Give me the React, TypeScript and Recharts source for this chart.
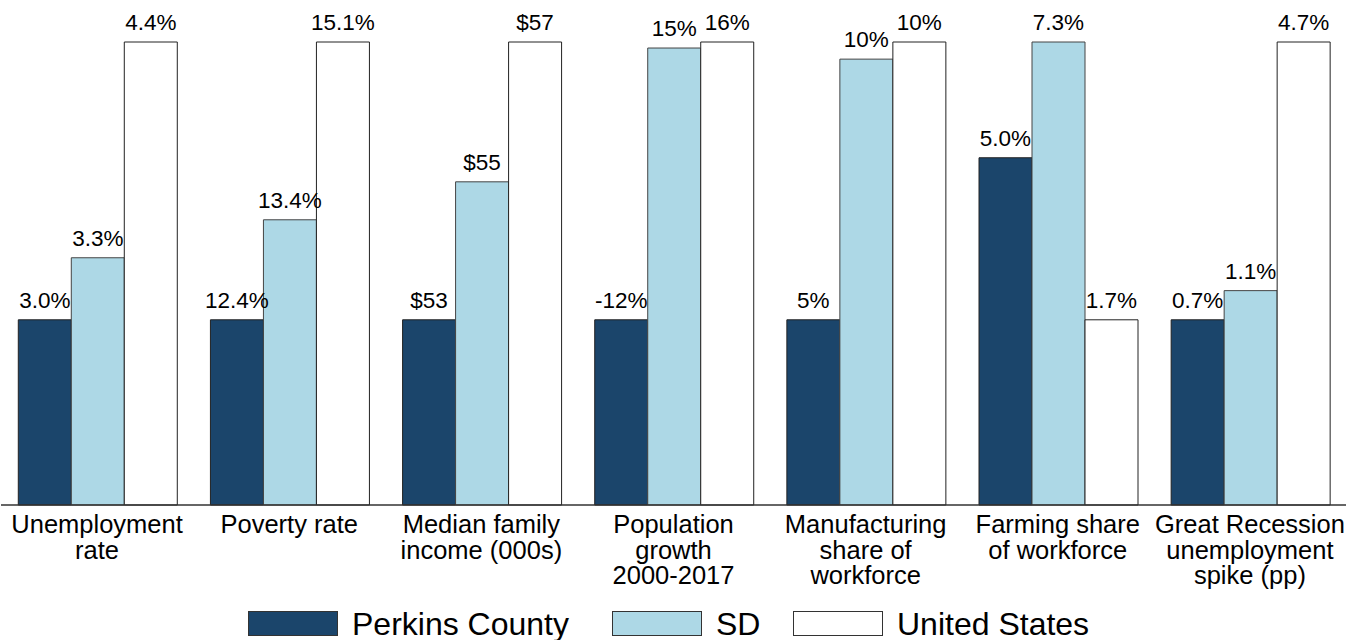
import { Bar, BarChart, LabelList, Legend, XAxis, YAxis } from "recharts";

const categories = [
  "Unemployment\nrate",
  "Poverty rate",
  "Median family\nincome (000s)",
  "Population\ngrowth\n2000-2017",
  "Manufacturing\nshare of\nworkforce",
  "Farming share\nof workforce",
  "Great Recession\nunemployment\nspike (pp)",
];

// bar heights as drawn (index, tallest bar in each group = 100)
const perkinsIndex = [40, 40, 40, 40, 40, 75, 40];
const sdIndex = [53.4, 61.6, 69.8, 98.7, 96.3, 100, 46.3];
const usIndex = [100, 100, 100, 100, 100, 40, 100];

// printed values
const perkinsLabels = ["3.0%", "12.4%", "$53", "-12%", "5%", "5.0%", "0.7%"];
const sdLabels = ["3.3%", "13.4%", "$55", "15%", "10%", "7.3%", "1.1%"];
const usLabels = ["4.4%", "15.1%", "$57", "16%", "10%", "1.7%", "4.7%"];

const seriesNames = ["Perkins County", "SD", "United States"];

const data = categories.map((name, i) => ({
  name,
  perkins: perkinsIndex[i],
  sd: sdIndex[i],
  us: usIndex[i],
  perkinsLabel: perkinsLabels[i],
  sdLabel: sdLabels[i],
  usLabel: usLabels[i],
}));

const FONT = "'Liberation Sans', Arial, Helvetica, sans-serif";
const DARK = "#1B456B";
const LIGHT = "#ADD8E6";
const WHITE = "#FFFFFF";

function CategoryTick({ x, y, payload }: any) {
  const lines = String(payload.value).split("\n");
  return (
    <text x={x} y={y} textAnchor="middle" fill="#000" fontSize={25.5} fontFamily={FONT}>
      {lines.map((line, i) => (
        <tspan key={i} x={x} y={y + 20 + i * 25.5}>
          {line}
        </tspan>
      ))}
    </text>
  );
}

function LegendBox() {
  const colors = [DARK, LIGHT, WHITE];
  const lefts = [248, 612, 793];
  return (
    <div style={{ position: "relative", height: 40, width: 1359 }}>
      {seriesNames.map((name, i) => (
        <div key={name}>
          <div
            style={{
              position: "absolute",
              left: lefts[i],
              top: 16,
              width: 88,
              height: 23,
              background: colors[i],
              border: "1px solid #333",
            }}
          />
          <span
            style={{
              position: "absolute",
              left: lefts[i] + 104,
              top: 13,
              fontSize: 32,
              lineHeight: "32px",
              fontFamily: FONT,
              color: "#000",
              whiteSpace: "nowrap",
            }}
          >
            {name}
          </span>
        </div>
      ))}
    </div>
  );
}

export default function App() {
  return (
    <div style={{ position: "absolute", left: 0, top: 0, background: "#fff" }}>
      <BarChart
        width={1359}
        height={640}
        data={data}
        margin={{ top: 42, right: 13, left: 1, bottom: 5 }}
        barCategoryGap="9%"
        barGap={0}
      >
        <XAxis
          dataKey="name"
          interval={0}
          tickLine={false}
          height={90}
          axisLine={{ stroke: "#333", strokeWidth: 1.5 }}
          tick={<CategoryTick />}
        />
        <YAxis hide domain={[0, 100]} />
        <Legend
          verticalAlign="bottom"
          content={<LegendBox />}
          wrapperStyle={{ left: 0, width: 1359, height: 40 }}
        />
        <Bar dataKey="perkins" name={seriesNames[0]} fill={DARK} stroke="#222" strokeWidth={1} isAnimationActive={false}>
          <LabelList dataKey="perkinsLabel" position="top" offset={12} fill="#000" fontSize={22.5} fontFamily={FONT} />
        </Bar>
        <Bar dataKey="sd" name={seriesNames[1]} fill={LIGHT} stroke="#444" strokeWidth={1} isAnimationActive={false}>
          <LabelList dataKey="sdLabel" position="top" offset={12} fill="#000" fontSize={22.5} fontFamily={FONT} />
        </Bar>
        <Bar dataKey="us" name={seriesNames[2]} fill={WHITE} stroke="#222" strokeWidth={1} isAnimationActive={false}>
          <LabelList dataKey="usLabel" position="top" offset={12} fill="#000" fontSize={22.5} fontFamily={FONT} />
        </Bar>
      </BarChart>
    </div>
  );
}
